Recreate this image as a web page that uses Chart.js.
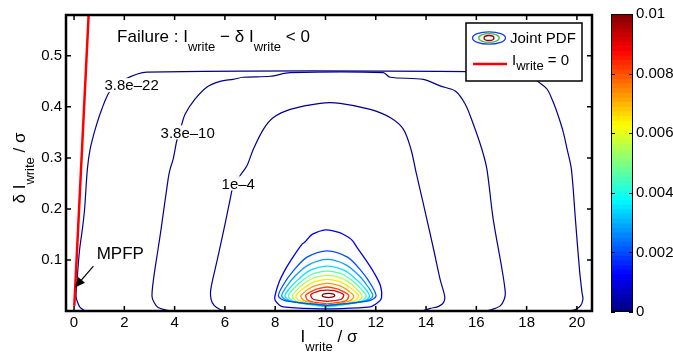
<!DOCTYPE html>
<html>
<head>
<meta charset="utf-8">
<script src="https://cdn.jsdelivr.net/npm/chart.js@4.4.0/dist/chart.umd.min.js"></script>
<style>
  body { margin: 0; background: #fff; }
  #wrap { position: relative; width: 673px; height: 352px; background: #fff; }
  #main { position: absolute; left: 0; top: 0; }
  #cbar { position: absolute; left: 600px; top: 0; }
</style>
</head>
<body>
<div id="wrap">
  <canvas id="main" width="673" height="352"></canvas>
  <canvas id="cbar" width="73" height="352"></canvas>
</div>
<script>
// Joint PDF contours of I_write / sigma vs delta I_write / sigma, with colour bar

// axes
const xTicks = [0, 2, 4, 6, 8, 10, 12, 14, 16, 18, 20];
const xTickLabels = ['0', '2', '4', '6', '8', '10', '12', '14', '16', '18', '20'];
const yTicks = [0.1, 0.2, 0.3, 0.4, 0.5];
const yTickLabels = ['0.1', '0.2', '0.3', '0.4', '0.5'];
const cbTicks = [0, 0.002, 0.004, 0.006, 0.008, 0.01];
const cbTickLabels = ['0', '0.002', '0.004', '0.006', '0.008', '0.01'];

// failure boundary line (two end points)
const failLine = [[0.01, 0.01], [0.6, 0.6]];

// contour 3.8e-22
const contourE22 = [[0.45,0.0],[0.24,0.007],[0.14,0.017],[0.08,0.029],[0.12,0.06],[0.22,0.12],[0.33,0.16],
  [0.42,0.20],[0.53,0.278],[0.64,0.317],[0.84,0.356],[1.10,0.395],[1.43,0.431],[2.03,0.454],[2.90,0.468],
  [17.95,0.468],[18.27,0.460],[18.42,0.451],[18.81,0.435],[19.06,0.409],[19.26,0.382],[19.46,0.350],
  [19.61,0.317],[19.78,0.278],[19.94,0.180],[20.10,0.082],[20.20,0.037],[20.24,0.023],[20.14,0.010],
  [19.94,0.003],[19.66,0.0]];
// contour 3.8e-10
const contourE10 = [[3.82,0.0],[3.34,0.007],[3.18,0.017],[3.10,0.029],[3.16,0.062],[3.34,0.121],[3.46,0.160],
  [3.74,0.258],[3.82,0.278],[3.94,0.297],[4.10,0.337],[4.26,0.362],[4.42,0.386],[4.81,0.415],[5.29,0.439],
  [5.81,0.450],[6.33,0.454],[6.73,0.458],[7.80,0.460],[8.60,0.467],[12.30,0.467],[12.57,0.458],[13.89,0.454],
  [14.56,0.441],[15.16,0.431],[15.56,0.405],[15.88,0.366],[16.22,0.317],[16.42,0.278],[16.67,0.180],
  [17.02,0.082],[17.15,0.037],[17.11,0.023],[16.95,0.010],[16.62,0.003],[16.35,0.0]];
// contour 1e-4
const contourE4 = [[6.05,0.0],[5.81,0.003],[5.57,0.011],[5.45,0.023],[5.44,0.043],[5.70,0.101],[5.96,0.160],
  [6.21,0.219],[6.33,0.245],[6.60,0.265],[6.87,0.284],[7.13,0.317],[7.53,0.356],[7.93,0.379],[8.60,0.395],
  [9.79,0.407],[10.58,0.407],[11.78,0.395],[12.57,0.379],[13.10,0.356],[13.40,0.317],[13.62,0.268],
  [13.88,0.213],[14.30,0.121],[14.56,0.062],[14.74,0.029],[14.70,0.017],[14.50,0.009],[14.17,0.005],[13.85,0.0]];

// joint PDF contours, outer to inner
const pdf1 = [[10.07,0.004],[8.32,0.008],[8.01,0.020],[7.99,0.029],[8.15,0.056],[8.41,0.082],[8.74,0.108],
  [9.07,0.131],[9.18,0.135],[9.27,0.140],[9.47,0.150],[10.00,0.159],[10.53,0.154],[10.93,0.144],[11.09,0.137],
  [11.26,0.124],[11.59,0.101],[11.93,0.075],[12.19,0.049],[12.23,0.026],[12.12,0.018],[11.78,0.008],[10.07,0.004]];
const pdf2 = [[10.07,0.011],[8.42,0.020],[8.13,0.029],[8.32,0.051],[8.71,0.078],[9.25,0.105],[10.07,0.118],
  [10.89,0.105],[11.43,0.078],[11.82,0.051],[12.01,0.029],[11.72,0.020],[10.07,0.011]];
const pdf3 = [[10.07,0.010],[8.53,0.020],[8.26,0.029],[8.44,0.047],[8.80,0.069],[9.31,0.090],[10.07,0.101],
  [10.83,0.090],[11.34,0.069],[11.70,0.047],[11.88,0.029],[11.61,0.020],[10.07,0.010]];
const pdf4 = [[10.07,0.009],[8.65,0.019],[8.39,0.029],[8.56,0.044],[8.90,0.061],[9.37,0.079],[10.07,0.088],
  [10.77,0.079],[11.24,0.061],[11.58,0.044],[11.75,0.029],[11.50,0.019],[10.07,0.009]];
const pdf5 = [[10.07,0.008],[8.76,0.018],[8.52,0.029],[8.68,0.041],[8.99,0.056],[9.42,0.071],[10.07,0.078],
  [10.72,0.071],[11.15,0.056],[11.46,0.041],[11.62,0.029],[11.38,0.018],[10.07,0.008]];
const pdf6 = [[10.07,0.008],[8.89,0.018],[8.68,0.029],[8.82,0.039],[9.10,0.052],[9.49,0.064],[10.07,0.070],
  [10.66,0.064],[11.05,0.052],[11.32,0.039],[11.46,0.029],[11.25,0.018],[10.07,0.008]];
const pdf7 = [[10.07,0.009],[9.01,0.019],[8.82,0.029],[8.95,0.037],[9.20,0.047],[9.55,0.057],[10.07,0.062],
  [10.59,0.057],[10.94,0.047],[11.19,0.037],[11.32,0.029],[11.13,0.019],[10.07,0.009]];
const pdf8 = [[10.07,0.011],[9.17,0.020],[9.01,0.029],[9.12,0.035],[9.33,0.043],[9.63,0.050],[10.07,0.054],
  [10.52,0.050],[10.81,0.043],[11.02,0.035],[11.13,0.029],[10.97,0.020],[10.07,0.011]];
const pdf9 = [[10.07,0.014],[9.34,0.020],[9.21,0.030],[9.29,0.034],[9.47,0.039],[9.71,0.044],[10.07,0.047],
  [10.43,0.044],[10.67,0.039],[10.85,0.034],[10.93,0.030],[10.80,0.020],[10.07,0.014]];
const pdf10 = [[10.07,0.019],[9.51,0.023],[9.41,0.031],[9.47,0.034],[9.61,0.037],[9.79,0.040],[10.07,0.041],
  [10.35,0.040],[10.53,0.037],[10.67,0.034],[10.73,0.031],[10.63,0.023],[10.07,0.019]];
const pdf11 = [[10.12,0.0263],[9.94,0.0275],[9.87,0.0305],[9.94,0.0335],[10.12,0.0347],[10.30,0.0335],
  [10.37,0.0305],[10.30,0.0275],[10.12,0.0263]];

// contour labels
const labelText = ['3.8e\u201322', '3.8e\u201310', '1e\u20134'];
const labelX = [2.29, 4.52, 6.53];
const labelY = [0.4425, 0.350, 0.250];

const navy = '#00008f';
const pdfColors = ['#0000e6', '#0050ff', '#00a0ff', '#00e6ff', '#50ffaf', '#afff50',
                   '#ffe600', '#ff9600', '#ff4600', '#dc0000', '#8c0000'];

const FAMILY = '"Liberation Sans", Arial, Helvetica, sans-serif';
const font = px => px + 'px ' + FAMILY;

function rich(ctx, parts, x, y, align) {
    let w = 0;
    for (const p of parts) { ctx.font = font(p[1]); w += ctx.measureText(p[0]).width; }
    let cx = align === 'center' ? x - w / 2 : x;
    ctx.textAlign = 'left';
    ctx.textBaseline = 'alphabetic';
    for (const p of parts) {
        ctx.font = font(p[1]);
        ctx.fillText(p[0], cx, y + p[2]);
        cx += ctx.measureText(p[0]).width;
    }
}

const toXY = pts => pts.map(p => ({ x: p[0], y: p[1] }));
function lineSet(pts, color, width) {
    return { data: toXY(pts), showLine: true, borderColor: color, borderWidth: width,
             pointRadius: 0, tension: 0.3, fill: false };
}

const datasets = [lineSet(failLine, '#ff0000', 2.5)];
datasets[0].tension = 0;
[contourE22, contourE10, contourE4].forEach(c => datasets.push(lineSet(c, navy, 1.2)));
[pdf1, pdf2, pdf3, pdf4, pdf5, pdf6, pdf7, pdf8, pdf9, pdf10, pdf11]
    .forEach((c, i) => datasets.push(lineSet(c, pdfColors[i], 1.3)));

const decor = {
    id: 'decor',
    afterDatasetsDraw(chart) {
        const { ctx, chartArea: a, scales: { x, y } } = chart;
        ctx.save();
        ctx.fillStyle = '#000';

        // contour labels with a white gap in the line
        ctx.font = font(15);
        labelText.forEach((t, i) => {
            const px = x.getPixelForValue(labelX[i]), py = y.getPixelForValue(labelY[i]);
            const w = ctx.measureText(t).width;
            ctx.fillStyle = '#fff';
            ctx.fillRect(px - w / 2 - 2, py - 7, w + 4, 14);
            ctx.fillStyle = '#000';
            ctx.textAlign = 'center';
            ctx.textBaseline = 'middle';
            ctx.fillText(t, px, py + 1);
        });

        // title inside the plot
        rich(ctx, [['Failure : I', 17, 0], ['write', 13, 9], [' \u2212 \u03b4 I', 17, 0], ['write', 13, 9], [' < 0', 17, 0]],
             x.getPixelForValue(1.71), y.getPixelForValue(0.527), 'left');

        // MPFP annotation
        ctx.font = font(17);
        ctx.textAlign = 'left';
        ctx.fillText('MPFP', x.getPixelForValue(0.90), y.getPixelForValue(0.101));
        const tx = x.getPixelForValue(0.77), ty = y.getPixelForValue(0.088);
        const hx = x.getPixelForValue(0.04), hy = y.getPixelForValue(0.046);
        const ang = Math.atan2(hy - ty, hx - tx);
        ctx.strokeStyle = '#000';
        ctx.lineWidth = 1.2;
        ctx.beginPath();
        ctx.moveTo(tx, ty);
        ctx.lineTo(hx - 8 * Math.cos(ang), hy - 8 * Math.sin(ang));
        ctx.stroke();
        ctx.beginPath();
        ctx.moveTo(hx, hy);
        ctx.lineTo(hx - 10 * Math.cos(ang) + 4.5 * Math.sin(ang), hy - 10 * Math.sin(ang) - 4.5 * Math.cos(ang));
        ctx.lineTo(hx - 10 * Math.cos(ang) - 4.5 * Math.sin(ang), hy - 10 * Math.sin(ang) + 4.5 * Math.cos(ang));
        ctx.closePath();
        ctx.fill();

        // legend box
        const lx = a.right - 126, ly = a.top + 8, lw = 116, lh = 58;
        ctx.fillStyle = '#fff';
        ctx.fillRect(lx, ly, lw, lh);
        ctx.strokeStyle = '#000';
        ctx.lineWidth = 1.5;
        ctx.strokeRect(lx, ly, lw, lh);
        ctx.lineWidth = 1.3;
        [[16.5, 6.2, '#1e3ce6'], [10.3, 4.3, '#40c040'], [5, 2.5, '#a00000']].forEach(e => {
            ctx.strokeStyle = e[2];
            ctx.beginPath();
            ctx.ellipse(lx + 23, ly + 15, e[0], e[1], 0, 0, Math.PI * 2);
            ctx.stroke();
        });
        ctx.fillStyle = '#000';
        ctx.font = font(15);
        ctx.textAlign = 'left';
        ctx.textBaseline = 'alphabetic';
        ctx.fillText('Joint PDF', lx + 44, ly + 20);
        ctx.strokeStyle = '#ff0000';
        ctx.lineWidth = 2.5;
        ctx.beginPath();
        ctx.moveTo(lx + 7, ly + 41);
        ctx.lineTo(lx + 41, ly + 41);
        ctx.stroke();
        rich(ctx, [['I', 15, 0], ['write', 13, 5], [' = 0', 15, 0]], lx + 46, ly + 42, 'left');

        // axis titles
        rich(ctx, [['I', 17, 0], ['write', 13, 9], [' / \u03c3', 17, 0]], (a.left + a.right) / 2, 342, 'center');
        ctx.save();
        ctx.translate(25, (a.top + a.bottom) / 2 + 5);
        ctx.rotate(-Math.PI / 2);
        rich(ctx, [['\u03b4 I', 17, 0], ['write', 13, 9], [' / \u03c3', 17, 0]], 0, 0, 'center');
        ctx.restore();
        ctx.restore();
    },
    afterDraw(chart) {
        const { ctx, chartArea: a, scales: { x, y } } = chart;
        ctx.save();
        ctx.strokeStyle = '#000';
        ctx.lineWidth = 1.5;
        ctx.beginPath();
        xTicks.forEach(v => {
            const px = x.getPixelForValue(v);
            ctx.moveTo(px, a.bottom); ctx.lineTo(px, a.bottom - 5);
            ctx.moveTo(px, a.top); ctx.lineTo(px, a.top + 5);
        });
        yTicks.forEach(v => {
            const py = y.getPixelForValue(v);
            ctx.moveTo(a.left, py); ctx.lineTo(a.left + 5, py);
            ctx.moveTo(a.right, py); ctx.lineTo(a.right - 5, py);
        });
        ctx.stroke();
        ctx.lineWidth = 2.5;
        ctx.strokeRect(a.left, a.top, a.right - a.left, a.bottom - a.top);
        ctx.restore();
    }
};

new Chart(document.getElementById('main'), {
    type: 'scatter',
    data: { datasets },
    options: {
        responsive: false,
        animation: false,
        devicePixelRatio: 1,
        layout: { padding: { left: 0, right: 81, top: 15, bottom: 0 } },
        plugins: { legend: { display: false }, tooltip: { enabled: false } },
        scales: {
            x: {
                type: 'linear', min: -0.32, max: 20.6,
                afterBuildTicks: s => { s.ticks = xTicks.map(v => ({ value: v })); },
                afterFit: s => { s.height = 41; },
                grid: { display: false, drawTicks: false },
                border: { display: false },
                ticks: { font: { size: 15, family: FAMILY }, color: '#000', padding: 3,
                         maxRotation: 0, autoSkip: false, callback: (v, i) => xTickLabels[i] }
            },
            y: {
                type: 'linear', min: 0, max: 0.58,
                afterBuildTicks: s => { s.ticks = yTicks.map(v => ({ value: v })); },
                afterFit: s => { s.width = 66; },
                grid: { display: false, drawTicks: false },
                border: { display: false },
                ticks: { font: { size: 15, family: FAMILY }, color: '#000', padding: 4,
                         autoSkip: false, callback: (v, i) => yTickLabels[i] }
            }
        }
    },
    plugins: [decor]
});

// colour bar (jet colormap)
const cbMax = 0.01;
const cbSlices = 64;
const clamp = v => Math.max(0, Math.min(1, v));
function jet(t) {
    const r = clamp(Math.min(4 * t - 1.5, -4 * t + 4.5));
    const g = clamp(Math.min(4 * t - 0.5, -4 * t + 3.5));
    const b = clamp(Math.min(4 * t + 0.5, -4 * t + 2.5));
    return `rgb(${Math.round(r * 255)},${Math.round(g * 255)},${Math.round(b * 255)})`;
}
const cbSets = [];
for (let i = 0; i < cbSlices; i++) {
    cbSets.push({ data: [cbMax / cbSlices], backgroundColor: jet((i + 0.5) / cbSlices),
                  borderWidth: 0, barPercentage: 1, categoryPercentage: 1 });
}

const cbFrame = {
    id: 'cbFrame',
    afterDraw(chart) {
        const { ctx, chartArea: a, scales: { y } } = chart;
        ctx.save();
        ctx.strokeStyle = '#000';
        ctx.lineWidth = 1;
        ctx.beginPath();
        cbTicks.forEach(v => {
            const py = Math.round(y.getPixelForValue(v)) + 0.5;
            ctx.moveTo(a.left, py); ctx.lineTo(a.left + 4, py);
            ctx.moveTo(a.right, py); ctx.lineTo(a.right - 4, py);
        });
        ctx.stroke();
        ctx.strokeRect(a.left + 0.5, a.top + 0.5, a.right - a.left - 1, a.bottom - a.top - 1);
        ctx.restore();
    }
};

new Chart(document.getElementById('cbar'), {
    type: 'bar',
    data: { labels: [''], datasets: cbSets },
    options: {
        responsive: false,
        animation: false,
        devicePixelRatio: 1,
        layout: { padding: { left: 11, right: 0, top: 14, bottom: 40 } },
        plugins: { legend: { display: false }, tooltip: { enabled: false } },
        scales: {
            x: { display: false, stacked: true },
            y: {
                stacked: true, min: 0, max: cbMax, position: 'right',
                afterBuildTicks: s => { s.ticks = cbTicks.map(v => ({ value: v })); },
                afterFit: s => { s.width = 40; },
                grid: { display: false, drawTicks: false },
                border: { display: false },
                ticks: { font: { size: 15, family: FAMILY }, color: '#000', padding: 3,
                         autoSkip: false, callback: (v, i) => cbTickLabels[i] }
            }
        }
    },
    plugins: [cbFrame]
});
</script>
</body>
</html>
